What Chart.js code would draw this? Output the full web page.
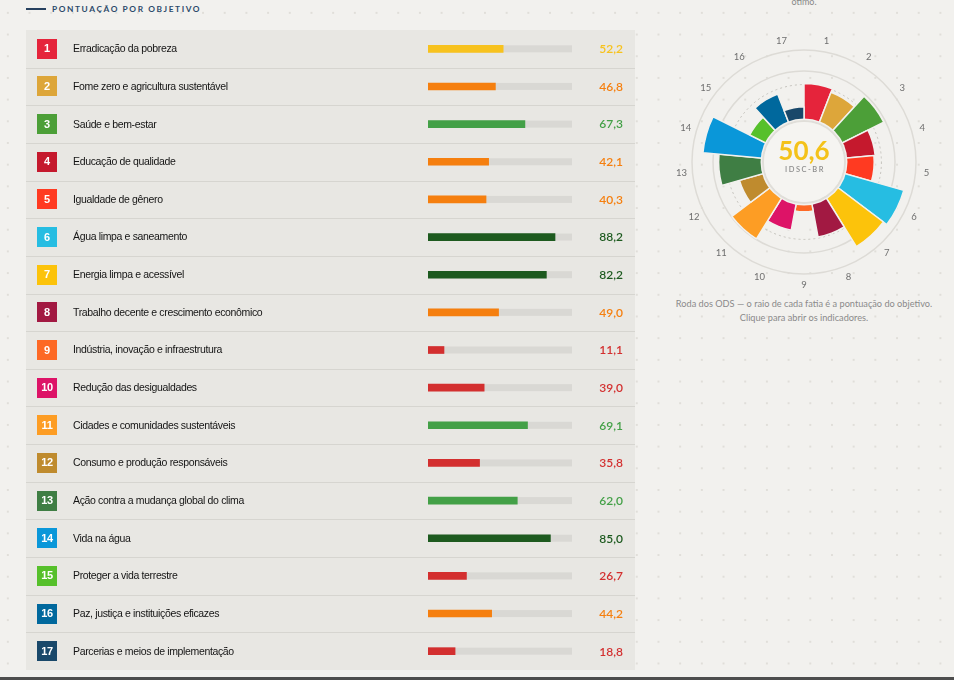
<!DOCTYPE html>
<html><head><meta charset="utf-8">
<script src="https://cdn.jsdelivr.net/npm/chart.js@4.4.1/dist/chart.umd.min.js"></script>
<style>
html,body{margin:0;padding:0;}
body{width:954px;height:680px;overflow:hidden;position:relative;background-color:#f2f1ee;
 background-image:radial-gradient(circle, #e0ded9 0.8px, transparent 1.2px);background-size:21.7px 21.7px;background-position:-3px 2px;
 font-family:'Liberation Sans',Arial,sans-serif;}
#hdrLine{position:absolute;left:26px;top:8px;width:20px;height:2px;background:#27415f;}
#hdr{position:absolute;left:52px;top:4px;font:bold 8.3px Lato,'Liberation Sans',sans-serif;letter-spacing:1.6px;color:#2c4a6a;white-space:nowrap;}
#panel{position:absolute;left:26px;top:30px;width:609px;height:640px;background:#e8e7e3;}
#listCanvas{position:absolute;left:26px;top:30px;}
#wheelCanvas{position:absolute;left:674px;top:32px;}
#topNote{position:absolute;left:704px;width:200px;top:-4px;text-align:center;font:9px Lato,sans-serif;color:#888;}
#cap{position:absolute;left:654px;width:300px;top:297px;text-align:center;font:9.2px Lato,'Liberation Sans',sans-serif;line-height:14px;color:#8a8a8a;}
#bottomLine{position:absolute;left:0;top:677px;width:954px;height:3px;background:#4d4d4d;}
</style></head>
<body>
<div id="hdrLine"></div>
<div id="hdr">PONTUAÇÃO POR OBJETIVO</div>
<div id="panel"></div>
<canvas id="listCanvas" width="609" height="640" style="width:609px;height:640px"></canvas>
<div id="topNote">ótimo.</div>
<canvas id="wheelCanvas" width="260" height="260" style="width:260px;height:260px"></canvas>
<div id="cap">Roda dos ODS — o raio de cada fatia é a pontuação do objetivo.<br>Clique para abrir os indicadores.</div>
<div id="bottomLine"></div>
<script>
const goalNumbers = [1,2,3,4,5,6,7,8,9,10,11,12,13,14,15,16,17];
const goalNames = [
 'Erradicação da pobreza',
 'Fome zero e agricultura sustentável',
 'Saúde e bem-estar',
 'Educação de qualidade',
 'Igualdade de gênero',
 'Água limpa e saneamento',
 'Energia limpa e acessível',
 'Trabalho decente e crescimento econômico',
 'Indústria, inovação e infraestrutura',
 'Redução das desigualdades',
 'Cidades e comunidades sustentáveis',
 'Consumo e produção responsáveis',
 'Ação contra a mudança global do clima',
 'Vida na água',
 'Proteger a vida terrestre',
 'Paz, justiça e instituições eficazes',
 'Parcerias e meios de implementação'
];
const goalScores = [52.2,46.8,67.3,42.1,40.3,88.2,82.2,49.0,11.1,39.0,69.1,35.8,62.0,85.0,26.7,44.2,18.8];
const goalColors = ['#E5243B','#DDA63A','#4C9F38','#C5192D','#FF3A21','#26BDE2','#FCC30B','#A21942','#FD6925','#DD1367','#FD9D24','#BF8B2E','#3F7E44','#0A97D9','#56C02B','#00689D','#19486A'];
const overallScore = 50.6;
const overallLabel = 'IDSC-BR';
const scoreMax = 100;
const wheelRings = [70, 100];

function scoreColor(v){
  if (v >= 80) return '#1d5a1f';
  if (v >= 60) return '#43a047';
  if (v >= 50) return '#f7c21e';
  if (v >= 40) return '#f57f0f';
  return '#d32f2f';
}
function fmt(v){ return v.toFixed(1).replace('.', ','); }

const rowPlugin = {
  id:'rows',
  beforeDatasetsDraw(chart){
    const ctx = chart.ctx, ys = chart.scales.y, xs = chart.scales.x;
    const meta = chart.getDatasetMeta(0);
    const band = chart.chartArea.height / goalNames.length;
    ctx.save();
    goalNames.forEach((name,i)=>{
      const y = ys.getPixelForValue(i);
      if (i < goalNames.length-1){
        ctx.fillStyle = '#d6d5d0';
        ctx.fillRect(0, Math.round(y + band/2), chart.width, 1);
      }
      ctx.fillStyle = goalColors[i];
      ctx.fillRect(11, Math.round(y) - 10, 20, 20);
      ctx.fillStyle = '#fff';
      ctx.font = 'bold 11px "Liberation Sans", Arial, sans-serif';
      ctx.textAlign = 'center'; ctx.textBaseline = 'middle';
      ctx.letterSpacing = '-0.3px';
      ctx.fillText(String(goalNumbers[i]), 21, y + 0.5);
      ctx.fillStyle = '#141414';
      ctx.font = '10.5px "Liberation Sans", Arial, sans-serif';
      ctx.letterSpacing = '-0.35px';
      ctx.textAlign = 'left';
      ctx.fillText(name, 47, y + 0.5);
      ctx.letterSpacing = '0px';
      const el = meta.data[i];
      const x0 = xs.getPixelForValue(0), x1 = xs.getPixelForValue(scoreMax);
      ctx.fillStyle = '#d9d8d4';
      ctx.fillRect(x0, el.y - el.height/2, x1 - x0, el.height);
    });
    ctx.restore();
  },
  afterDatasetsDraw(chart){
    const ctx = chart.ctx, ys = chart.scales.y;
    ctx.save();
    ctx.font = '600 12px Lato, sans-serif';
    ctx.textAlign = 'right'; ctx.textBaseline = 'middle';
    goalScores.forEach((v,i)=>{
      ctx.fillStyle = scoreColor(v);
      ctx.fillText(fmt(v), 597, ys.getPixelForValue(i) + 0.5);
    });
    ctx.restore();
  }
};

new Chart(document.getElementById('listCanvas'), {
  type:'bar',
  data:{ labels: goalNames, datasets:[{
    data: goalScores,
    backgroundColor: goalScores.map(scoreColor),
    barThickness: 7,
    borderWidth: 0
  }]},
  options:{
    indexAxis:'y', responsive:false, animation:false,
    layout:{ padding:{ left:402, right:63, top:0, bottom:0 } },
    scales:{ x:{ display:false, min:0, max:scoreMax }, y:{ display:false } },
    plugins:{ legend:{display:false}, tooltip:{enabled:false} }
  },
  plugins:[rowPlugin]
});

const wheelPlugin = {
  id:'wheel',
  beforeDatasetsDraw(chart){
    const ctx = chart.ctx, s = chart.scales.r;
    ctx.save();
    ctx.strokeStyle = '#dddbd6'; ctx.lineWidth = 1.5;
    wheelRings.forEach(v=>{
      ctx.beginPath(); ctx.arc(s.xCenter, s.yCenter, s.getDistanceFromCenterForValue(v), 0, Math.PI*2); ctx.stroke();
    });
    ctx.strokeStyle = '#c4c2bc'; ctx.lineWidth = 1; ctx.setLineDash([2,3]);
    ctx.beginPath(); ctx.arc(s.xCenter, s.yCenter, s.getDistanceFromCenterForValue(overallScore), 0, Math.PI*2); ctx.stroke();
    ctx.restore();
  },
  afterDatasetsDraw(chart){
    const ctx = chart.ctx, s = chart.scales.r;
    const r0 = s.getDistanceFromCenterForValue(0);
    ctx.save();
    ctx.fillStyle = '#f2f1ee';
    ctx.beginPath(); ctx.arc(s.xCenter, s.yCenter, r0 + 1.5, 0, Math.PI*2); ctx.fill();
    ctx.strokeStyle = '#e0ded9'; ctx.lineWidth = 2;
    ctx.beginPath(); ctx.arc(s.xCenter, s.yCenter, r0 - 1, 0, Math.PI*2); ctx.stroke();
    ctx.fillStyle = '#f5f4f1';
    ctx.beginPath(); ctx.arc(s.xCenter, s.yCenter, r0 - 2, 0, Math.PI*2); ctx.fill();
    ctx.textAlign = 'center'; ctx.textBaseline = 'middle';
    ctx.fillStyle = '#f4c21a';
    ctx.font = 'bold 26px Lato, sans-serif';
    ctx.fillText(fmt(overallScore), s.xCenter, s.yCenter - 10);
    ctx.fillStyle = '#8d8d8d';
    ctx.font = '600 7.5px Lato, sans-serif';
    ctx.letterSpacing = '1.5px';
    ctx.fillText(overallLabel, s.xCenter + 1, s.yCenter + 8);
    ctx.letterSpacing = '0px';
    ctx.fillStyle = '#6f6f6f';
    ctx.font = '9.5px Lato, sans-serif';
    const half = Math.PI / goalNumbers.length;
    goalNumbers.forEach((n,i)=>{
      const p = s.getPointPosition(i, s.drawingArea + 11, half);
      ctx.fillText(String(n), p.x, p.y);
    });
    ctx.restore();
  }
};

new Chart(document.getElementById('wheelCanvas'), {
  type:'polarArea',
  data:{ labels: goalNumbers.map(String), datasets:[{
    data: goalScores, backgroundColor: goalColors, borderColor:'#f2f1ee', borderWidth:1.5
  }]},
  options:{
    responsive:false, animation:false,
    layout:{ padding:18 },
    scales:{ r:{ min:-60, max:scoreMax, ticks:{display:false}, grid:{display:false}, angleLines:{display:false}, pointLabels:{display:false} } },
    plugins:{ legend:{display:false}, tooltip:{enabled:false} }
  },
  plugins:[wheelPlugin]
});
</script>
</body></html>
